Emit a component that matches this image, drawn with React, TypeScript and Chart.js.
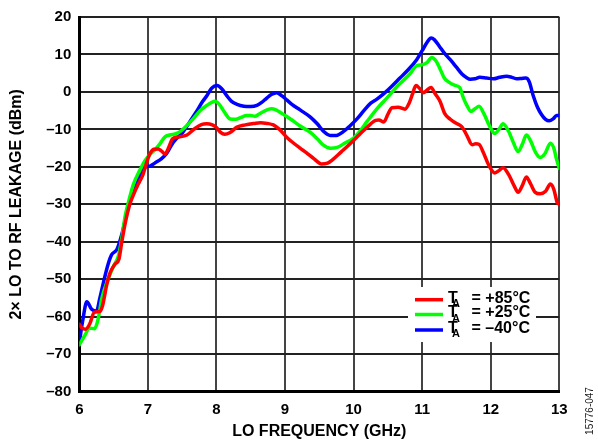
import { useEffect, useRef } from 'react';
import { Chart, registerables } from 'chart.js';

Chart.register(...registerables);

// +85°C (red)
const redFreq = [6.00, 6.04, 6.09, 6.15, 6.22, 6.30, 6.34, 6.40, 6.45, 6.52, 6.58, 6.62, 6.67, 6.74, 6.80, 6.86, 6.93, 6.98, 7.03, 7.09, 7.15, 7.20, 7.25, 7.30, 7.36, 7.45, 7.57, 7.67, 7.78, 7.86, 7.94, 8.00, 8.06, 8.12, 8.20, 8.30, 8.42, 8.55, 8.64, 8.74, 8.83, 8.92, 9.02, 9.10, 9.22, 9.31, 9.42, 9.53, 9.62, 9.70, 9.82, 9.95, 10.05, 10.15, 10.25, 10.32, 10.37, 10.44, 10.50, 10.56, 10.65, 10.75, 10.81, 10.86, 10.91, 10.96, 11.02, 11.07, 11.13, 11.19, 11.26, 11.33, 11.41, 11.49, 11.58, 11.65, 11.73, 11.78, 11.83, 11.90, 11.97, 12.06, 12.12, 12.18, 12.26, 12.34, 12.40, 12.46, 12.52, 12.58, 12.65, 12.72, 12.80, 12.87, 12.92, 12.97, 13.00];
const redLeak = [-62, -63, -63.3, -62, -58.8, -58.6, -57, -51.5, -48.2, -46, -44.5, -40, -35, -29.8, -27, -24.6, -22, -19, -16.5, -15.3, -15.2, -15.8, -16.6, -15, -12.5, -12, -11.5, -10, -8.7, -8.5, -8.8, -9.5, -10.8, -11.3, -10.8, -9.4, -8.8, -8.4, -8.2, -8.4, -8.8, -10, -12, -13.3, -15, -16.2, -17.8, -19.2, -19, -18, -16, -13.8, -12, -10.2, -8.5, -7.6, -7.5, -8, -6, -4.2, -4.1, -4.6, -3, -0.5, 1.7, 1, -0.2, 0.5, 1.2, -0.5, -2.5, -5.8, -7.3, -8.3, -9.3, -11.5, -14.1, -13.8, -14, -16.5, -19.5, -21.6, -21, -20.2, -22, -25, -26.8, -25, -22.7, -24.5, -26.8, -27.2, -26.5, -24.6, -26, -29.5, -30];

// +25°C (green)
const greenFreq = [6.00, 6.08, 6.15, 6.22, 6.27, 6.33, 6.42, 6.50, 6.57, 6.62, 6.67, 6.73, 6.79, 6.88, 6.96, 7.04, 7.10, 7.17, 7.25, 7.32, 7.40, 7.47, 7.55, 7.66, 7.76, 7.86, 7.93, 7.98, 8.05, 8.12, 8.20, 8.28, 8.36, 8.44, 8.50, 8.56, 8.63, 8.72, 8.80, 8.86, 8.95, 9.02, 9.10, 9.22, 9.37, 9.47, 9.56, 9.66, 9.76, 9.87, 10.00, 10.10, 10.20, 10.34, 10.45, 10.55, 10.63, 10.72, 10.82, 10.92, 11.01, 11.07, 11.14, 11.20, 11.26, 11.32, 11.39, 11.47, 11.55, 11.60, 11.65, 11.71, 11.77, 11.83, 11.90, 11.98, 12.06, 12.12, 12.18, 12.26, 12.33, 12.40, 12.46, 12.52, 12.58, 12.65, 12.72, 12.79, 12.87, 12.92, 12.96, 13.00];
const greenLeak = [-67.5, -65, -63, -63.2, -61, -55, -50, -46.5, -43.8, -39, -33, -28.5, -24.6, -21, -18.3, -16.5, -15.5, -14, -12, -11.5, -11.2, -10.6, -9.3, -7.2, -5, -3.6, -2.8, -2.5, -3.5, -5.5, -7.2, -7.3, -6.8, -6.3, -6.3, -6.5, -5.8, -4.9, -4.5, -4.7, -5.7, -6.5, -7.5, -9.1, -10.8, -12.5, -14.2, -15, -14.8, -13.7, -12.3, -10.3, -7.8, -4.5, -2.3, -0.3, 1.4, 3, 4.8, 7, 7.3, 7.8, 9.2, 8.3, 6.2, 3.8, 2.6, 1.8, 1.1, -1.5, -3.5, -5.2, -4.5, -3.8, -5.8, -9, -11.1, -10, -8.5, -10.5, -13.5, -15.9, -14, -11.5, -13, -16, -17.5, -16.5, -13.7, -15, -18, -20.4];

// -40°C (blue)
const blueFreq = [6.00, 6.05, 6.11, 6.18, 6.25, 6.30, 6.35, 6.42, 6.47, 6.55, 6.62, 6.71, 6.81, 6.91, 6.97, 7.03, 7.10, 7.20, 7.27, 7.35, 7.42, 7.50, 7.61, 7.70, 7.80, 7.86, 7.93, 8.01, 8.08, 8.15, 8.22, 8.30, 8.40, 8.50, 8.59, 8.66, 8.73, 8.80, 8.88, 8.95, 9.03, 9.10, 9.22, 9.37, 9.47, 9.56, 9.66, 9.75, 9.85, 9.95, 10.05, 10.15, 10.25, 10.34, 10.45, 10.55, 10.68, 10.80, 10.92, 11.00, 11.07, 11.13, 11.18, 11.25, 11.33, 11.41, 11.50, 11.58, 11.65, 11.70, 11.77, 11.84, 11.94, 12.04, 12.13, 12.23, 12.31, 12.38, 12.45, 12.51, 12.56, 12.62, 12.68, 12.74, 12.80, 12.85, 12.91, 12.96, 13.00];
const blueLeak = [-67, -61, -56, -58, -58.5, -55, -51, -46, -43.5, -42, -38, -31, -26, -21.5, -20, -19.8, -19, -17.8, -16.5, -14, -12.4, -11, -8, -5.5, -2.5, -1, 1, 1.7, 0.8, -1, -2.5, -3.3, -3.8, -3.9, -3.6, -2.8, -1.7, -0.7, -0.2, -1, -2.2, -3.3, -4.8, -6.7, -8.5, -10.5, -11.6, -11.6, -10.6, -9, -7.2, -5, -3, -1.9, -0.3, 1.4, 3.8, 6, 8.6, 11, 13.2, 14.4, 13.9, 12.2, 10.2, 8.6, 6.6, 4.8, 3.8, 3.4, 3.5, 3.9, 3.7, 3.5, 3.9, 4.2, 3.9, 3.5, 3.6, 3.7, 2.8, -1, -4, -6, -7.3, -7.7, -7.2, -6.3, -6.3];

const seriesLabels = ['+85°C', '+25°C', '\u201340°C'];
const seriesColors = ['#ff0000', '#00ff00', '#0000ff'];
const xTitle = 'LO FREQUENCY (GHz)';
const yTitle = '2\u00d7 LO TO RF LEAKAGE (dBm)';
const figureId = '15776-047';
const xMin = 6, xMax = 13, xStep = 1;
const yMin = -80, yMax = 20, yStep = 10;

const FONT = "'Liberation Sans', Arial, sans-serif";

const pts = (xs: number[], ys: number[]) => xs.map((x, i) => ({ x, y: ys[i] }));

const overlayPlugin = {
  id: 'overlay',
  beforeDatasetsDraw(chart: any) {
    const { ctx } = chart;
    ctx.save();
    // legend box
    ctx.fillStyle = '#ffffff';
    ctx.fillRect(408, 287, 128, 55);
    const rows = [299.7, 314.5, 330];
    seriesLabels.forEach((lab, i) => {
      const y = rows[i];
      ctx.strokeStyle = seriesColors[i];
      ctx.lineWidth = 3.5;
      ctx.beginPath();
      ctx.moveTo(415, y);
      ctx.lineTo(443, y);
      ctx.stroke();
      ctx.fillStyle = '#000';
      ctx.textBaseline = 'alphabetic';
      ctx.textAlign = 'left';
      ctx.font = `bold 16px ${FONT}`;
      ctx.fillText('T', 448, y + 2.8);
      ctx.font = `bold 11px ${FONT}`;
      ctx.fillText('A', 452, y + 7);
      ctx.font = `bold 16px ${FONT}`;
      ctx.fillText('= ' + lab, 471.5, y + 2.8);
    });
    ctx.restore();
  },
  afterDraw(chart: any) {
    const { ctx } = chart;
    ctx.save();
    ctx.translate(590, 411);
    ctx.rotate(-Math.PI / 2);
    ctx.fillStyle = '#222';
    ctx.font = `10px ${FONT}`;
    ctx.textAlign = 'center';
    ctx.textBaseline = 'middle';
    ctx.fillText(figureId, 0, 0);
    ctx.restore();
  },
};

export default function App() {
  const ref = useRef<HTMLCanvasElement>(null);
  useEffect(() => {
    const canvas = ref.current;
    if (!canvas) return;
    const chart = new Chart(canvas, {
      type: 'line',
      data: {
        datasets: [
          { label: seriesLabels[0], data: pts(redFreq, redLeak), borderColor: seriesColors[0] },
          { label: seriesLabels[1], data: pts(greenFreq, greenLeak), borderColor: seriesColors[1] },
          { label: seriesLabels[2], data: pts(blueFreq, blueLeak), borderColor: seriesColors[2] },
        ].map((d) => ({
          ...d,
          borderWidth: 3.5,
          pointRadius: 0,
          fill: false,
          cubicInterpolationMode: 'monotone' as const,
          borderCapStyle: 'round' as const,
          borderJoinStyle: 'round' as const,
        })),
      },
      options: {
        responsive: false,
        animation: false,
        devicePixelRatio: 1,
        layout: { padding: { top: 9.6, right: 38.7, left: 0, bottom: 0 } },
        plugins: { legend: { display: false }, tooltip: { enabled: false } },
        scales: {
          x: {
            type: 'linear',
            min: xMin,
            max: xMax,
            ticks: { stepSize: xStep, color: '#000', font: { family: FONT, size: 15, weight: 'bold' }, padding: 9, maxRotation: 0 },
            grid: { color: '#444', lineWidth: 2, drawTicks: false },
            border: { color: '#000', width: 3 },
            title: { display: true, text: xTitle, color: '#000', font: { family: FONT, size: 16, weight: 'bold' }, padding: { top: 0, bottom: 5 } },
            afterFit: (s: any) => { s.height = 54.3; },
          },
          y: {
            type: 'linear',
            min: yMin,
            max: yMax,
            ticks: {
              stepSize: yStep,
              color: '#000',
              font: { family: FONT, size: 15, weight: 'bold' },
              padding: 8,
              callback: (v: any) => (Number(v) < 0 ? '\u2013' + Math.abs(Number(v)) : String(v)),
            },
            grid: { color: '#222', lineWidth: 2, drawTicks: false },
            border: { color: '#000', width: 3 },
            title: { display: true, text: yTitle, color: '#000', font: { family: FONT, size: 16, weight: 'bold' }, padding: { top: 7, bottom: 0 } },
            afterFit: (s: any) => { s.width = 79.3; },
          },
        },
      },
      plugins: [overlayPlugin],
    });
    return () => chart.destroy();
  }, []);
  return (
    <div style={{ position: 'absolute', left: 0, top: 0, width: 598, height: 446, background: '#fff' }}>
      <canvas ref={ref} width={598} height={446} style={{ display: 'block' }} />
    </div>
  );
}
